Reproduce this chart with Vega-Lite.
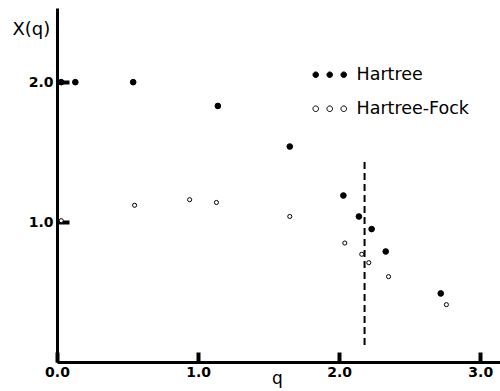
{
  "$schema": "https://vega.github.io/schema/vega-lite/v6.json",
  "width": 443,
  "height": 354,
  "autosize": "none",
  "padding": {"left": 57, "top": 8, "right": 0, "bottom": 29},
  "background": "white",
  "config": {
    "view": {"stroke": null},
    "font": "DejaVu Sans"
  },
  "datasets": {
    "pts": [
      {"series": "Hartree", "q": 0.03, "X": 2.0},
      {"series": "Hartree", "q": 0.13, "X": 2.0},
      {"series": "Hartree", "q": 0.54, "X": 2.0},
      {"series": "Hartree", "q": 1.14, "X": 1.83},
      {"series": "Hartree", "q": 1.65, "X": 1.54},
      {"series": "Hartree", "q": 2.03, "X": 1.19},
      {"series": "Hartree", "q": 2.14, "X": 1.04},
      {"series": "Hartree", "q": 2.23, "X": 0.95},
      {"series": "Hartree", "q": 2.33, "X": 0.79},
      {"series": "Hartree", "q": 2.72, "X": 0.49},
      {"series": "Hartree-Fock", "q": 0.03, "X": 1.01},
      {"series": "Hartree-Fock", "q": 0.55, "X": 1.12},
      {"series": "Hartree-Fock", "q": 0.94, "X": 1.16},
      {"series": "Hartree-Fock", "q": 1.13, "X": 1.14},
      {"series": "Hartree-Fock", "q": 1.65, "X": 1.04},
      {"series": "Hartree-Fock", "q": 2.04, "X": 0.85},
      {"series": "Hartree-Fock", "q": 2.16, "X": 0.77},
      {"series": "Hartree-Fock", "q": 2.21, "X": 0.71},
      {"series": "Hartree-Fock", "q": 2.35, "X": 0.61},
      {"series": "Hartree-Fock", "q": 2.76, "X": 0.41}
    ],
    "cut": [{"q": 2.18, "top": 1.43, "bottom": 0.11}]
  },
  "layer": [
    {
      "data": {"name": "cut"},
      "mark": {"type": "rule", "color": "black", "strokeWidth": 2, "strokeDash": [7, 4]},
      "encoding": {
        "x": {"field": "q", "type": "quantitative", "scale": {"domain": [0, 3.14], "nice": false, "zero": false}},
        "y": {"field": "top", "type": "quantitative", "scale": {"domain": [0, 2.53], "nice": false}},
        "y2": {"field": "bottom"}
      }
    },
    {
      "data": {"name": "pts"},
      "mark": {"type": "point", "shape": "circle", "filled": false, "stroke": "black", "strokeWidth": 1, "opacity": 1},
      "encoding": {
        "x": {
          "field": "q", "type": "quantitative",
          "scale": {"domain": [0, 3.14], "nice": false, "zero": false},
          "axis": {
            "values": [0, 1, 2, 3], "format": ".1f",
            "grid": false, "domainColor": "black", "domainWidth": 3,
            "tickColor": "black", "tickSize": -10, "tickWidth": 4,
            "labelFont": "DejaVu Sans", "labelFontWeight": "bold", "labelFontSize": 14, "labelColor": "black",
            "labelPadding": 13, "labelFlush": false,
            "title": "q", "titleFont": "DejaVu Sans", "titleFontWeight": "normal", "titleFontSize": 17, "titleColor": "black",
            "titleX": 220, "titleY": 21, "titleBaseline": "alphabetic"
          }
        },
        "y": {
          "field": "X", "type": "quantitative",
          "scale": {"domain": [0, 2.53], "nice": false},
          "axis": {
            "values": [1, 2], "format": ".1f",
            "grid": false, "domainColor": "black", "domainWidth": 3,
            "tickColor": "black", "tickSize": -12, "tickWidth": 4,
            "labelFont": "DejaVu Sans", "labelFontWeight": "bold", "labelFontSize": 14, "labelColor": "black",
            "labelPadding": 16,
            "title": "X(q)", "titleFont": "DejaVu Sans", "titleFontWeight": "normal", "titleFontSize": 18, "titleColor": "black",
            "titleAngle": 0, "titleX": -45, "titleY": 21, "titleAlign": "left", "titleBaseline": "middle"
          }
        },
        "fill": {
          "field": "series", "type": "nominal",
          "scale": {"domain": ["Hartree", "Hartree-Fock"], "range": ["black", "white"]},
          "legend": {
            "title": null, "orient": "none", "legendX": 264, "legendY": 58, "padding": 0,
            "symbolType": "M-2.4,0 a0.4,0.4 0 1,0 0.8,0 a0.4,0.4 0 1,0 -0.8,0 Z M-0.4,0 a0.4,0.4 0 1,0 0.8,0 a0.4,0.4 0 1,0 -0.8,0 Z M1.6,0 a0.4,0.4 0 1,0 0.8,0 a0.4,0.4 0 1,0 -0.8,0 Z",
            "symbolSize": 196, "symbolStrokeColor": "black", "symbolStrokeWidth": 1, "symbolOpacity": 1,
            "labelFont": "DejaVu Sans", "labelFontSize": 17.5, "labelColor": "black", "labelOffset": 18,
            "rowPadding": 15
          }
        },
        "size": {
          "condition": {"test": "datum.series === 'Hartree'", "value": 32},
          "value": 17
        }
      }
    }
  ]
}
